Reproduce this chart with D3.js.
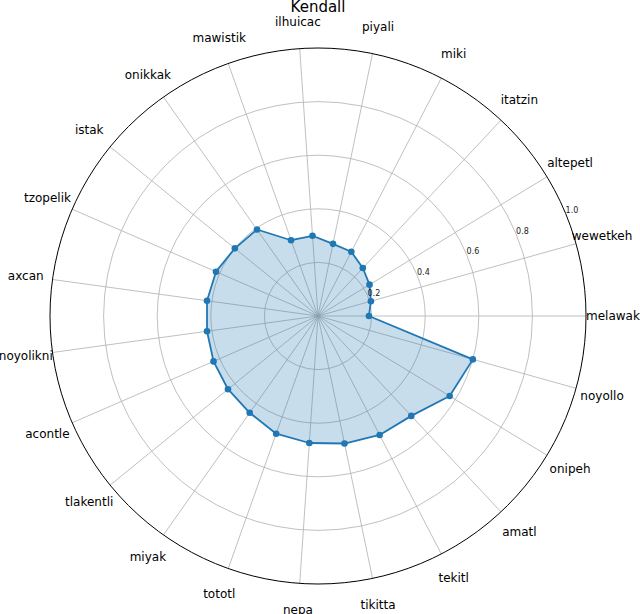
<!DOCTYPE html>
<html>
<head>
<meta charset="utf-8">
<script src="https://cdn.jsdelivr.net/npm/d3@7"></script>
<style>
  body { margin: 0; background: #fff; }
  svg { display: block; font-family: "DejaVu Sans", sans-serif; }
</style>
</head>
<body>
<div id="chart"></div>
<script>
// categories go counter-clockwise from 3 o'clock
const categories = [
  "melawak", "wewetkeh", "altepetl", "itatzin", "miki", "piyali", "ilhuicac",
  "mawistik", "onikkak", "istak", "tzopelik", "axcan", "noyolikni", "acontle",
  "tlakentli", "miyak", "tototl", "nepa", "tikitta", "tekitl", "amatl",
  "onipeh", "noyollo"
];
const kendall = [
  0.19, 0.205, 0.225, 0.245, 0.27, 0.275, 0.30,
  0.30, 0.395, 0.40, 0.415, 0.418, 0.418, 0.425,
  0.433, 0.442, 0.466, 0.475, 0.486, 0.50, 0.51,
  0.575, 0.60
];
const rTicks = [0.2, 0.4, 0.6, 0.8, 1.0];
const title = "Kendall";

const width = 640, height = 614;
const cx = 318, cy = 316, R = 268;
const blue = "#1f77b4";

const svg = d3.select("#chart").append("svg")
  .attr("width", width)
  .attr("height", height);

const g = svg.append("g").attr("transform", "translate(" + cx + "," + cy + ")");

const r = d3.scaleLinear().domain([0, 1]).range([0, R]);
// math angle (radians, ccw from east)
const theta = d3.scaleLinear().domain([0, categories.length]).range([0, 2 * Math.PI]);
// d3 radial angle is clockwise from north
const radialAngle = (i) => Math.PI / 2 - theta(i);

const px = (i, v) => r(v) * Math.cos(theta(i));
const py = (i, v) => -r(v) * Math.sin(theta(i));

// grid circles
g.selectAll("circle.grid")
  .data(rTicks.filter((t) => t < 1))
  .join("circle")
  .attr("class", "grid")
  .attr("r", (d) => r(d))
  .attr("fill", "none")
  .attr("stroke", "#b0b0b0")
  .attr("stroke-width", 0.8);

// spokes
g.selectAll("line.spoke")
  .data(categories)
  .join("line")
  .attr("class", "spoke")
  .attr("x1", 0).attr("y1", 0)
  .attr("x2", (d, i) => px(i, 1))
  .attr("y2", (d, i) => py(i, 1))
  .attr("stroke", "#b0b0b0")
  .attr("stroke-width", 0.8);

// data area
const area = d3.areaRadial()
  .angle((d, i) => radialAngle(i))
  .innerRadius(0)
  .outerRadius((d) => r(d))
  .curve(d3.curveLinearClosed);

const line = d3.lineRadial()
  .angle((d, i) => radialAngle(i))
  .radius((d) => r(d))
  .curve(d3.curveLinearClosed);

g.append("path")
  .datum(kendall)
  .attr("d", d3.lineRadial()
    .angle((d, i) => radialAngle(i))
    .radius((d) => r(d))
    .curve(d3.curveLinearClosed))
  .attr("fill", blue)
  .attr("fill-opacity", 0.25)
  .attr("stroke", "none");

g.append("path")
  .datum(kendall)
  .attr("d", line)
  .attr("fill", "none")
  .attr("stroke", blue)
  .attr("stroke-width", 1.8)
  .attr("stroke-linejoin", "round");

g.selectAll("circle.pt")
  .data(kendall)
  .join("circle")
  .attr("class", "pt")
  .attr("cx", (d, i) => px(i, d))
  .attr("cy", (d, i) => py(i, d))
  .attr("r", 3.3)
  .attr("fill", blue);

// outer spine
g.append("circle")
  .attr("r", R)
  .attr("fill", "none")
  .attr("stroke", "#000")
  .attr("stroke-width", 1);

// radial tick labels at 22.5 degrees
const labelAngle = 22.5 * Math.PI / 180;
g.selectAll("text.rtick")
  .data(rTicks)
  .join("text")
  .attr("class", "rtick")
  .attr("x", (d) => r(d) * Math.cos(labelAngle))
  .attr("y", (d) => -r(d) * Math.sin(labelAngle))
  .attr("font-size", 8)
  .attr("fill", "#222")
  .text((d) => d.toFixed(1));

// category labels
const labelR = 295;
g.selectAll("text.cat")
  .data(categories)
  .join("text")
  .attr("class", "cat")
  .attr("x", (d, i) => labelR * Math.cos(theta(i)))
  .attr("y", (d, i) => -labelR * Math.sin(theta(i)))
  .attr("text-anchor", "middle")
  .attr("dominant-baseline", "central")
  .attr("font-size", 12)
  .attr("fill", "#000")
  .text((d) => d);

// title
svg.append("text")
  .attr("x", cx)
  .attr("y", 11.5)
  .attr("text-anchor", "middle")
  .attr("font-size", 15)
  .attr("fill", "#000")
  .text(title);
</script>
</body>
</html>
